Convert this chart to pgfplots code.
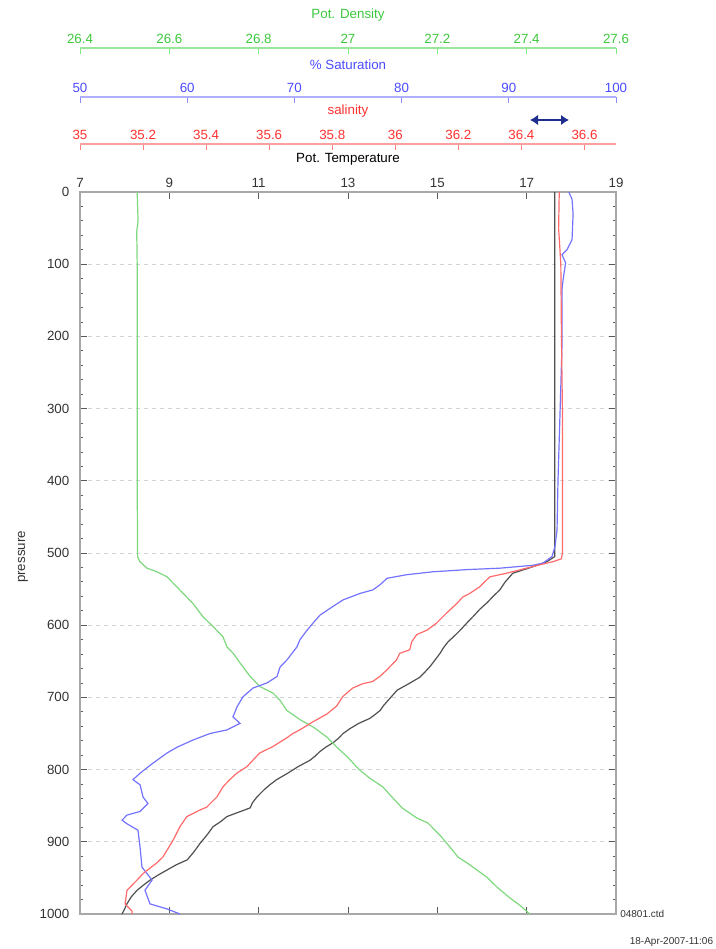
\documentclass[border=0pt]{standalone}
\usepackage{pgfplots}
\pgfplotsset{compat=1.18}
\usepackage{fontspec}
\setmainfont{Liberation Sans}
\usetikzlibrary{arrows.meta}

\definecolor{cgreen}{HTML}{7ED87E}
\definecolor{tgreen}{HTML}{3CC83C}
\definecolor{lgreen}{HTML}{9AE69A}
\definecolor{cblue}{HTML}{7373FF}
\definecolor{tblue}{HTML}{4B4BFF}
\definecolor{lblue}{HTML}{AFAFFF}
\definecolor{cred}{HTML}{FF6A6A}
\definecolor{tred}{HTML}{FF3030}
\definecolor{lred}{HTML}{FFA0A0}
\definecolor{cblack}{HTML}{505050}
\definecolor{framec}{HTML}{A8A8A8}
\definecolor{navy}{HTML}{1F2D8F}
\definecolor{txt}{HTML}{333333}

\pgfplotsset{
  deco/.style={scale only axis, width=402pt, height=1pt, ymin=0, ymax=1,
    axis x line=top, axis y line=none, xtick align=inside,
    major tick length=4.5pt, x axis line style={-},
    tick label style={font=\fontsize{10}{12}\selectfont},
    xticklabel style={anchor=center, yshift=7pt},
    anchor=north west},
  decolabel/.style={xlabel style={at={(axis description cs:0.5,1)}, anchor=center, yshift=24.4pt, font=\fontsize{10}{12}\selectfont}},
  data/.style={scale only axis, width=402pt, height=541.5pt, at={(0,0)}, anchor=south west,
    ymin=0, ymax=1000, y dir=reverse, hide axis}
}

\begin{document}
\begin{tikzpicture}
\useasboundingbox (-60pt,-26.25pt) rectangle (476.25pt,685.5pt);

% main axis: potential temperature
\begin{axis}[scale only axis, width=402pt, height=541.5pt, at={(0,0)}, anchor=south west,
  xmin=7, xmax=19, ymin=0, ymax=1000, y dir=reverse,
  xtick={7,9,11,13,15,17,19}, xticklabels={7,9,11,13,15,17,19},
  xtick pos=both, xticklabel pos=upper,
  ytick={0,100,...,1000}, yticklabels={0,100,200,300,400,500,600,700,800,900,1000},
  minor y tick num=4, ytick pos=both, yticklabel pos=left,
  tick align=inside, major tick length=5pt, minor tick length=2.5pt,
  tick style={color=gray!70!black, line width=0.6pt},
  axis line style={framec, line width=1.5pt},
  ymajorgrids, major grid style={dashed, gray!35, line width=0.6pt},
  tick label style={font=\fontsize{10}{12}\selectfont, text=txt},
  xticklabel style={anchor=center, yshift=7pt},
  yticklabel style={anchor=east, xshift=-4.5pt},
  xlabel={Pot. Temperature}, ylabel={pressure},
  xlabel style={at={(axis description cs:0.5,1)}, anchor=center, yshift=24.4pt, font=\fontsize{10}{12}\selectfont, text=black},
  ylabel style={at={(axis description cs:-0.1063,0.4945)}, anchor=center, font=\fontsize{10}{12}\selectfont, text=txt},
]
\addplot[cblack, line width=0.9pt] coordinates {
(17.63,0)(17.63,100)(17.63,200)(17.63,300)(17.63,400)(17.63,505)(17.45,512)(17.14,519)(16.69,528)
(16.52,540)(16.40,551)(16.25,560)(16.11,569)(15.95,578)(15.80,588)(15.66,597)(15.51,607)(15.38,615)
(15.24,623)(15.14,631)(15.06,639)(14.95,648)(14.84,657)(14.72,665)(14.61,672)(14.39,680)(14.10,690)
(14.00,697)(13.90,704)(13.80,711)(13.72,718)(13.60,724)(13.49,729)(13.24,736)(13.05,743)(12.89,750)
(12.78,757)(12.66,763)(12.50,769)(12.37,775)(12.27,781)(12.15,787)(11.88,796)(11.65,805)(11.40,814)
(11.25,821)(11.12,828)(10.96,838)(10.86,846)(10.81,853)(10.55,859)(10.29,865)(10.15,872)(9.98,879)
(9.85,890)(9.69,902)(9.55,914)(9.40,925)(9.15,932)(8.95,939)(8.75,946)(8.57,953)(8.42,960)(8.28,967)
(8.15,976)(8.05,986)(8.00,993)(7.94,1000)
};
\end{axis}

% data axis: density
\begin{axis}[data, xmin=26.4, xmax=27.6]
\addplot[cgreen, line width=0.9pt] coordinates {
(26.528,0)(26.530,40)(26.527,55)(26.528,100)(26.528,200)(26.528,300)(26.528,400)(26.529,505)
(26.534,512)(26.550,521)(26.572,526)(26.595,533)(26.617,547)(26.631,556)(26.653,570)(26.675,588)
(26.698,602)(26.720,616)(26.729,630)(26.743,639)(26.758,652)(26.781,671)(26.803,685)(26.832,694)
(26.848,704)(26.863,718)(26.893,731)(26.922,741)(26.953,755)(26.975,769)(26.998,782)(27.025,800)
(27.049,812)(27.078,824)(27.094,835)(27.121,853)(27.154,867)(27.179,874)(27.206,891)(27.228,907)
(27.246,921)(27.266,929)(27.311,949)(27.334,963)(27.363,978)(27.385,988)(27.407,1000)
};
\end{axis}

% data axis: saturation
\begin{axis}[data, xmin=50, xmax=100]
\addplot[cblue, line width=0.9pt] coordinates {
(95.6,0)(95.9,10)(96.0,30)(95.9,66)(95.43,80)(94.96,87)(95.3,98)(95.06,122)(94.96,136)(94.96,214)
(94.78,306)(94.59,399)(94.50,468)(94.31,491)(94.03,505)(93.56,510)(93.19,514)(92.26,517)(89.18,521)
(86.10,523)(82.93,526)(80.50,530)(78.64,535)(77.99,544)(77.33,551)(76.12,556)(74.53,565)(73.60,574)
(72.39,586)(71.74,597)(71.18,607)(70.52,620)(70.24,630)(69.31,648)(68.66,658)(68.38,671)(67.44,680)
(66.14,687)(65.21,699)(64.65,713)(64.27,727)(64.93,736)(63.71,745)(62.13,750)(60.54,759)(59.05,769)
(58.12,777)(56.81,791)(55.60,805)(54.94,814)(55.60,821)(55.88,838)(56.34,847)(55.60,858)(54.38,863)
(53.92,870)(54.38,875)(55.41,884)(55.60,907)(55.78,935)(56.25,944)(56.72,953)(56.06,967)(56.53,986)
(58.12,993)(59.33,1000)
};
\end{axis}

% data axis: salinity
\begin{axis}[data, xmin=35, xmax=36.7]
\addplot[cred, line width=0.9pt] coordinates {
(36.520,0)(36.518,50)(36.525,100)(36.527,200)(36.530,300)(36.530,400)(36.530,500)(36.527,508)
(36.500,512)(36.480,514)(36.416,521)(36.353,528)(36.300,533)(36.267,547)(36.236,556)(36.214,561)
(36.195,570)(36.163,583)(36.131,597)(36.100,607)(36.068,613)(36.052,623)(36.046,634)(36.014,639)
(36.004,648)(35.973,662)(35.951,671)(35.928,678)(35.897,681)(35.865,687)(35.833,699)(35.814,712)
(35.783,723)(35.738,734)(35.697,745)(35.675,750)(35.656,756)(35.612,768)(35.570,777)(35.529,796)
(35.497,805)(35.475,814)(35.453,824)(35.434,838)(35.402,852)(35.380,856)(35.339,865)(35.317,879)
(35.295,898)(35.263,921)(35.244,929)(35.200,944)(35.181,953)(35.149,967)(35.143,986)(35.165,996)
(35.165,1000)
};
\end{axis}

% decoration axes
\begin{axis}[deco, at={(0,577.5pt)}, xmin=35, xmax=36.7,
  xtick={35,35.2,35.4,35.6,35.8,36,36.2,36.4,36.6},
  xticklabels={35,35.2,35.4,35.6,35.8,36,36.2,36.4,36.6},
  x axis line style={lred, line width=2.2pt, -}, tick style={lred!80!red, line width=0.7pt},
  tick label style={text=tred}, xlabel={salinity}, decolabel, xlabel style={text=tred}]
\end{axis}
\begin{axis}[deco, at={(0,612.75pt)}, xmin=50, xmax=100,
  xtick={50,60,70,80,90,100}, xticklabels={50,60,70,80,90,100},
  x axis line style={lblue, line width=1.5pt, -}, tick style={lblue!80!blue, line width=0.7pt},
  tick label style={text=tblue}, xlabel={\% Saturation}, decolabel, xlabel style={text=tblue}]
\end{axis}
\begin{axis}[deco, at={(0,649.5pt)}, xmin=26.4, xmax=27.6,
  xtick={26.4,26.6,26.8,27,27.2,27.4,27.6}, xticklabels={26.4,26.6,26.8,27,27.2,27.4,27.6},
  x axis line style={lgreen, line width=1.5pt, -}, tick style={lgreen!80!green, line width=0.7pt},
  tick label style={text=tgreen}, xlabel={Pot. Density}, decolabel, xlabel style={text=tgreen}]
\end{axis}

\draw[navy, line width=2.2pt, {Latex[length=6pt,width=8pt]}-{Latex[length=6pt,width=8pt]}] (337.5pt,595.5pt) -- (366.75pt,595.5pt);

\node[anchor=west, font=\fontsize{7.5}{9}\selectfont, text=txt, inner sep=0pt] at (405pt,0pt) {04801.ctd};
\node[anchor=east, font=\fontsize{7.5}{9}\selectfont, text=txt, inner sep=0pt] at (475pt,-21pt) {18-Apr-2007-11:06};
\end{tikzpicture}
\end{document}
